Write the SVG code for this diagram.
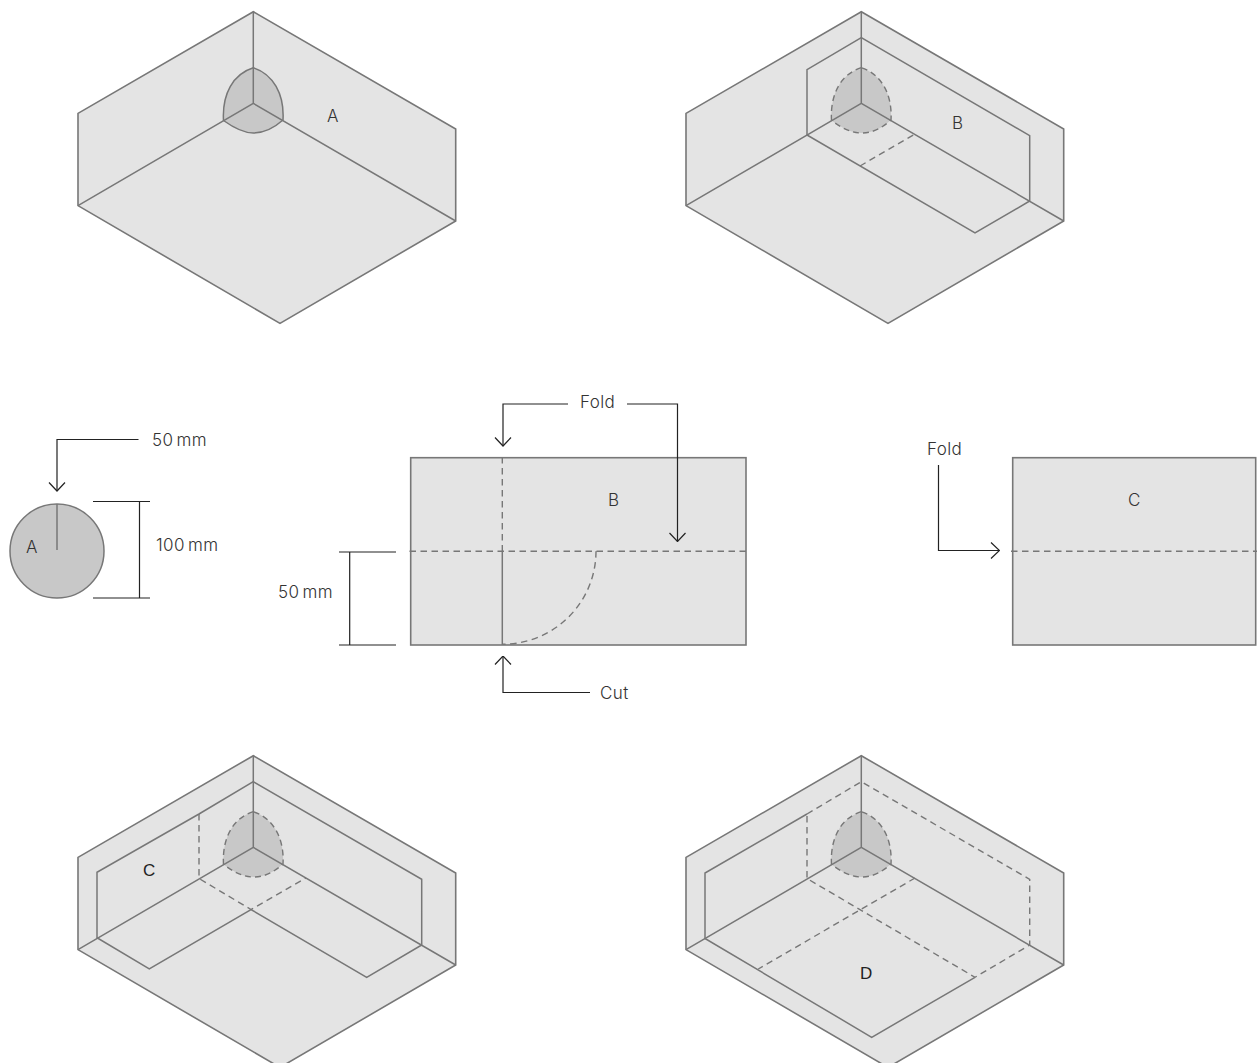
<svg xmlns="http://www.w3.org/2000/svg" width="1257" height="1063" viewBox="0 0 1257 1063">
<style>
.sheet{fill:#e4e4e4;stroke:#777;stroke-width:1.6;stroke-linejoin:miter}
.ln{fill:none;stroke:#777;stroke-width:1.5}
.da{fill:none;stroke:#777;stroke-width:1.4;stroke-dasharray:6.5 4.5}
.lens{fill:#c8c8c8;stroke:#777;stroke-width:1.5}
.lensd{fill:#c8c8c8;stroke:#777;stroke-width:1.4;stroke-dasharray:6 4}
.con{fill:none;stroke:#222;stroke-width:1.2}
.t{font-family:"Inter","Liberation Sans",sans-serif;font-weight:300;font-size:17px;letter-spacing:.4px;fill:#333;word-spacing:-2px}
.h{font-family:"Liberation Sans",Arial,sans-serif;font-size:17px;fill:#222}
</style>
<defs>
<path id="box" class="sheet" d="M253.300 11.700L78 113.400V205.600L280 323.400L455.700 221V129Z"/>
<path id="lensp" d="M253.300 67.700C233 74 222 94 223.500 120.500C234 128 243 133 253.300 133C265 133 274 128 283 120C284.500 94 273 74 253.300 67.700Z"/>
<path id="edges" d="M253.300 11.700V103.400M78 205.600L253.300 103.400L455.700 221"/>
<marker id="open" viewBox="0 0 10 18" refX="9.500" refY="9" markerWidth="10" markerHeight="18" markerUnits="userSpaceOnUse" orient="auto"><path d="M1 1L9.500 9L1 17" fill="none" stroke="#222" stroke-width="1.200"/></marker>
</defs>
<g id="box-a">
<use href="#box"/>
<use href="#lensp" class="lens"/>
<use href="#edges" class="ln"/>
<text class="t" x="327" y="122">A</text>
</g>
<g id="box-b" transform="translate(608 0)">
<use href="#box"/>
<use href="#lensp" class="lensd"/>
<use href="#edges" class="ln"/>
<path class="ln" d="M253.300 37.700L199 69.700V135L367 233L421.700 201V135.700Z"/>
<path class="da" d="M252 166L307 134"/>
<text class="t" x="344" y="129">B</text>
</g>
<g id="disc-a">
<circle cx="57" cy="551" r="47" class="lens"/>
<path class="ln" d="M57 504V550"/>
<text class="t" x="26" y="553">A</text>
</g>
<g id="sheet-b">
<rect class="sheet" x="410.700" y="457.700" width="335.300" height="187.300"/>
<path class="da" d="M409.500 551.300H748M502.300 457V551.300M596 551.300A93.700 93 0 0 1 502.300 644.300"/>
<path class="ln" d="M502.300 551.300V645"/>
<text class="t" x="608" y="506">B</text>
</g>
<g id="sheet-c">
<rect class="sheet" x="1012.700" y="457.700" width="243" height="187.300"/>
<path class="da" d="M1011 551.300H1257"/>
<text class="t" x="1128" y="506">C</text>
</g>
<g id="box-c" transform="translate(0 744)">
<use href="#box"/>
<use href="#lensp" class="lensd"/>
<use href="#edges" class="ln"/>
<path class="ln" d="M199 70L253.300 37.700L421.700 135.300V201L366.700 233.300L251 165.500L149.300 225L97 193.700V128.300L199 70"/>
<path class="da" d="M199 70V134.500L251 165.500L306 134"/>
<text class="h" x="143" y="132">C</text>
</g>
<g id="box-d" transform="translate(608 744)">
<use href="#box"/>
<use href="#lensp" class="lensd"/>
<use href="#edges" class="ln"/>
<path class="ln" d="M367 233.300L263.700 293.300L97 194.500V129L199 70"/>
<path class="da" d="M199 70L253.300 37.700L421.700 135.300V201L367 233.300L199 134.500V70M307 134L150.300 225"/>
<text class="h" x="252" y="235">D</text>
</g>
<g id="connectors">
<path class="con" marker-end="url(#open)" d="M138.500 439.500H57V491"/>
<path class="con" d="M93 501.500H150M93 598H150M139.500 501.500V598M339 552H396M339 645H396M349.700 552V645"/>
<path class="con" marker-end="url(#open)" d="M568 404H503V446"/>
<path class="con" marker-end="url(#open)" d="M627 404H677.500V541.500"/>
<path class="con" marker-end="url(#open)" d="M590 692.500H503V656"/>
<path class="con" marker-end="url(#open)" d="M938.500 465V550.500H999.500"/>
</g>
<g id="labels">
<text class="t" x="152" y="446">50 mm</text>
<text class="t" x="156" y="551">100 mm</text>
<text class="t" x="278" y="598">50 mm</text>
<text class="t" x="580" y="408">Fold</text>
<text class="t" x="600" y="699">Cut</text>
<text class="t" x="927" y="455">Fold</text>
</g>
</svg>
